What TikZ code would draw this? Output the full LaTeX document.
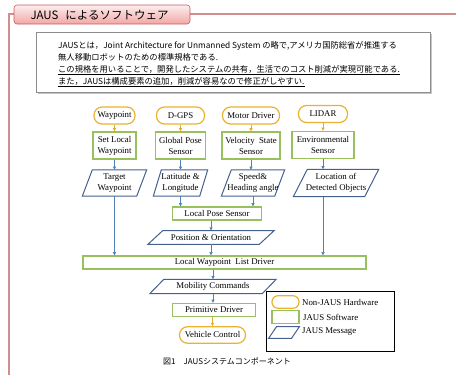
\documentclass[tikz,border=0pt]{standalone}
\usepackage{fontspec}
\setmainfont{Liberation Serif}
\newfontfamily\jpfont{Noto Sans CJK JP}
\usetikzlibrary{arrows.meta}

\definecolor{hwgold}{RGB}{234,178,46}
\definecolor{swgreen}{RGB}{152,192,92}
\definecolor{msgblue}{RGB}{68,96,140}
\definecolor{linkblue}{RGB}{84,128,184}
\definecolor{linkgold}{RGB}{236,170,36}
\definecolor{framepink}{RGB}{208,142,142}
\definecolor{tabtop}{RGB}{253,238,238}
\definecolor{tabbottom}{RGB}{243,166,166}
\definecolor{tabline}{RGB}{196,92,92}

\tikzset{
  hw/.style={draw=hwgold, line width=1.2pt, rounded corners=#1, inner sep=0pt},
  hw/.default=8pt,
  sw/.style={draw=swgreen, line width=1.2pt, inner sep=0pt, align=center},
  msg/.style={inner sep=0pt, align=center,
    append after command={\pgfextra{\draw[msgblue, line width=1pt]
      ([xshift=#1]\tikzlastnode.north west) -- ([xshift=#1]\tikzlastnode.north east)
      -- ([xshift=-#1]\tikzlastnode.south east) -- ([xshift=-#1]\tikzlastnode.south west) -- cycle;}}},
  msg/.default=6pt,
  blueflow/.style={draw=linkblue, line width=0.8pt, ->},
  goldflow/.style={draw=linkgold, line width=0.8pt, ->},
}

\begin{document}
\begin{tikzpicture}[x=1pt, y=-1pt, >={Triangle[length=3.2pt,width=3pt]},
    font=\fontsize{8.8}{11}\selectfont]
    \useasboundingbox (0,0) rectangle (456,375);
    %% frame and title tab
    \draw[framepink, line width=2pt] (9,375) -- (9,14) -- (456,14);
    \shade[top color=tabtop, bottom color=tabbottom, draw=tabline, line width=0.6pt,
      rounded corners=3pt] (14,5) rectangle (190,24);
    \node[anchor=west, font=\jpfont\fontsize{11.5}{12}\selectfont] (title) at (27,15)
      {JAUS\hspace{0.6em}によるソフトウェア};
    %% intro box
    \fill[black!22] (37.5,33.5) rectangle (431.5,93.5);
    \draw[black!45, fill=white, line width=1pt] (36,32) rectangle (430,92);
    \node[anchor=north west, inner sep=0pt, align=left,
      font=\jpfont\fontsize{8.3}{12}\selectfont] (intro) at (58,41)
      {JAUSとは，Joint Architecture for Unmanned System の略で,アメリカ国防総省が推進する\\
       無人移動ロボットのための標準規格である.\\
       \underline{この規格を用いることで，開発したシステムの共有，生活でのコスト削減が実現可能である.}\\
       \underline{また，JAUSは構成要素の追加，削減が容易なので修正がしやすい.}};
    %% hardware
    \node[hw, minimum width=41pt, minimum height=17pt] (waypoint) at (114.5,115.5) {Waypoint};
    \node[hw, minimum width=48pt, minimum height=17pt] (dgps) at (180.5,115.5) {D-GPS};
    \node[hw, minimum width=57pt, minimum height=17pt] (motor) at (251,115.5) {Motor Driver};
    \node[hw, minimum width=49pt, minimum height=17pt] (lidar) at (323,114) {LIDAR};
    %% software
    \node[sw, minimum width=43pt, minimum height=27pt] (setlocal) at (114.5,145.5) {Set Local\\Waypoint};
    \node[sw, minimum width=50pt, minimum height=27pt] (globalpose) at (180.5,145.5) {Global Pose\\Sensor};
    \node[sw, minimum width=58pt, minimum height=27pt] (velocity) at (251,145.5) {Velocity\ \ State\\Sensor};
    \node[sw, minimum width=62pt, minimum height=27pt] (environ) at (323,145) {Environmental\\Sensor};
    %% messages
    \node[msg=5pt, minimum width=54pt, minimum height=26pt] (target) at (114.5,183) {Target\\Waypoint};
    \node[msg=4pt, minimum width=46pt, minimum height=26pt] (latlong) at (180.5,183) {Latitude \&\\Longitude};
    \node[msg=5pt, minimum width=53pt, minimum height=26pt] (speed) at (253,183) {Speed\&\\Heading angle};
    \node[msg=7pt, minimum width=71pt, minimum height=27pt] (location) at (336,183) {Location of\\Detected Objects};
    %% pose and driver chain
    \node[sw, minimum width=89pt, minimum height=13pt] (localpose) at (217,213.5) {Local Pose Sensor};
    \node[msg=7.5pt, minimum width=111pt, minimum height=13.5pt] (posorient) at (211,237.5) {Position \& Orientation};
    \node[sw, minimum width=283pt, minimum height=13pt] (listdriver) at (224.5,262.5) {Local Waypoint\ \ List Driver};
    \node[msg=7pt, minimum width=112pt, minimum height=14pt] (mobility) at (213,286.5) {Mobility Commands};
    \node[sw, minimum width=83pt, minimum height=13pt] (primitive) at (214,310) {Primitive Driver};
    \node[hw, minimum width=66pt, minimum height=16.5pt] (vehicle) at (212.5,335) {Vehicle Control};
    %% connectors
    \draw[goldflow] (waypoint.south) -- (setlocal.north);
    \draw[goldflow] (dgps.south) -- (globalpose.north);
    \draw[goldflow] (motor.south) -- (velocity.north);
    \draw[goldflow] (lidar.south) -- (lidar.south |- environ.north);
    \draw[blueflow] (setlocal.south) -- (target.north);
    \draw[blueflow] (globalpose.south) -- (latlong.north);
    \draw[blueflow] (velocity.south) -- (velocity.south |- speed.north);
    \draw[blueflow] (environ.south) -- (environ.south |- location.north);
    \draw[blueflow] (latlong.south) -- (latlong.south |- localpose.north);
    \draw[blueflow] (speed.south) -- (speed.south |- localpose.north);
    \draw[blueflow] (target.south) -- (target.south |- listdriver.north);
    \draw[blueflow] (environ.south |- location.south) -- (environ.south |- listdriver.north);
    \draw[blueflow] (posorient.north |- localpose.south) -- (posorient.north);
    \draw[blueflow] (posorient.south) -- (posorient.south |- listdriver.north);
    \draw[blueflow] (mobility.north |- listdriver.south) -- (mobility.north);
    \draw[blueflow] (mobility.south) -- (mobility.south |- primitive.north);
    \draw[goldflow] (vehicle.north |- primitive.south) -- (vehicle.north);
    %% legend
    \draw[black, line width=1pt] (266,291) rectangle (394,351);
    \node[hw=6pt, minimum width=27pt, minimum height=12.5pt] (keyhw) at (285.5,302) {};
    \node[sw, minimum width=27pt, minimum height=12.5pt] (keysw) at (285.5,317) {};
    \node[msg=4pt, minimum width=22.5pt, minimum height=11.5pt] (keymsg) at (284,332.5) {};
    \node[anchor=west, inner sep=0pt] (keyhwtext) at (302,302) {Non-JAUS Hardware};
    \node[anchor=west, inner sep=0pt] (keyswtext) at (303,317) {JAUS Software};
    \node[anchor=west, inner sep=0pt] (keymsgtext) at (302,332) {JAUS Message};
    %% caption
    \node[anchor=west, inner sep=0pt, font=\jpfont\fontsize{8}{10}\selectfont] (caption) at (163,361)
      {図1　JAUSシステムコンポーネント};
\end{tikzpicture}
\end{document}
